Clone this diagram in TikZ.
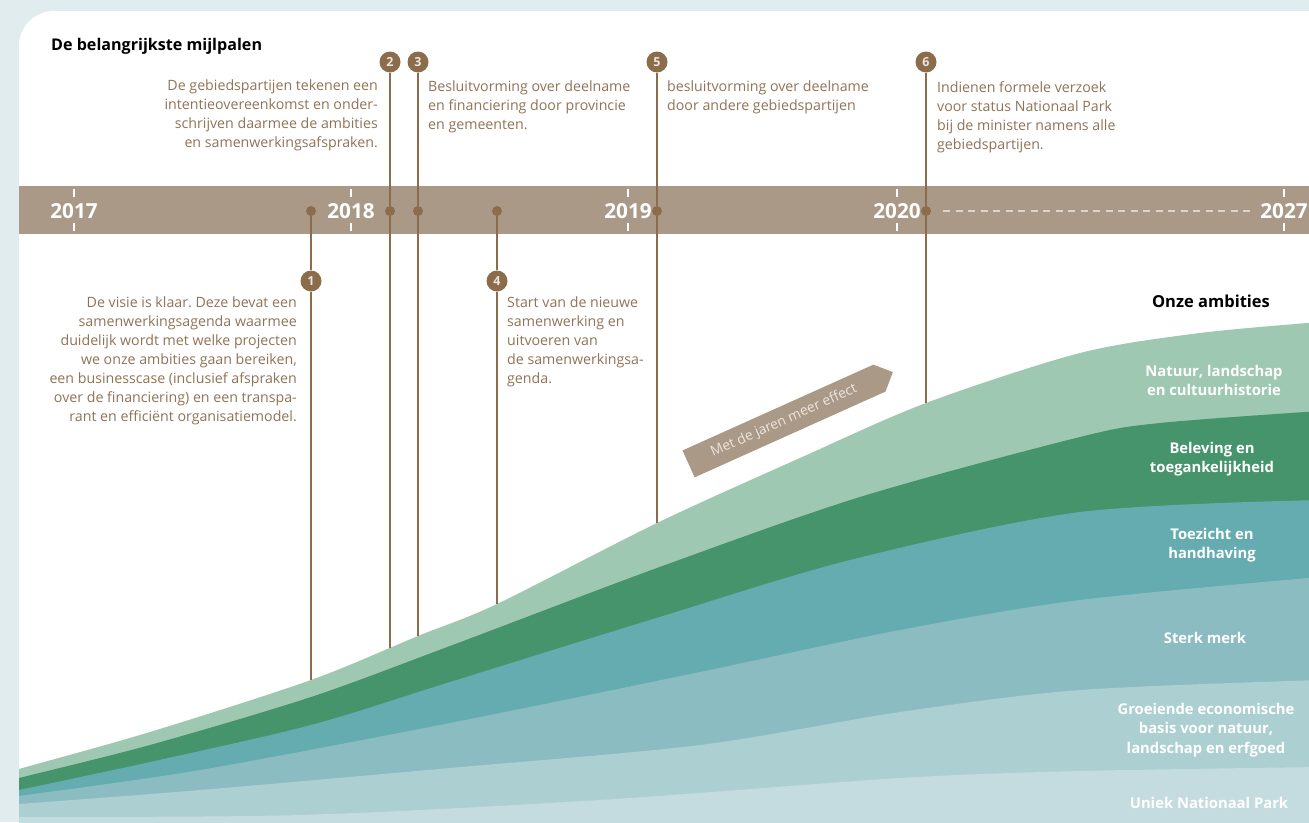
\documentclass[tikz,border=0pt]{standalone}
\usepackage{fontspec}
\setmainfont{Open Sans}
\usepackage{tikz}
\usetikzlibrary{shapes.symbols,positioning}
\frenchspacing

\definecolor{bgcol}{HTML}{E1ECEE}
\definecolor{bandcol}{HTML}{AB9987}
\definecolor{mijlcol}{HTML}{8C6D4B}
\definecolor{txtcol}{HTML}{8F7457}
\definecolor{numtxt}{HTML}{ECE5DC}
\definecolor{dashcol}{HTML}{DCD4CA}
\definecolor{natcol}{HTML}{9EC8B1}
\definecolor{belcol}{HTML}{46946B}
\definecolor{toecol}{HTML}{64ACB0}
\definecolor{merkcol}{HTML}{8BBCC1}
\definecolor{groecol}{HTML}{ACCFD1}
\definecolor{parkcol}{HTML}{C4DCE0}

\tikzset{
  nummer/.style={circle,fill=mijlcol,minimum size=21pt,inner sep=0pt,text=numtxt,
    font=\bfseries\fontsize{12.5}{12.5}\selectfont},
  punt/.style={circle,fill=mijlcol,minimum size=10pt,inner sep=0pt},
  paal/.style={mijlcol,line width=1.6pt},
  uitleg/.style={text=txtcol,inner sep=0pt,font=\fontsize{14.2}{19}\selectfont},
  jaar/.style={text=white,inner sep=0pt,font=\bfseries\fontsize{20.7}{20.7}\selectfont},
  laag/.style={text=white,inner sep=0pt,align=center,anchor=north,
    font=\bfseries\fontsize{14.8}{19.5}\selectfont},
}

\begin{document}
\begin{tikzpicture}[x=1pt,y=-1pt]
  \fill[bgcol] (0,0) rectangle (1309,822);
  \useasboundingbox (0,0) rectangle (1309,822);

  % kaart, tijdbalk en lagen
  \begin{scope}
    \clip[rounded corners=35pt] (19,11) rectangle (1360,860);
    \fill[white] (0,0) rectangle (1309,822);
    \fill[bandcol] (0,186) rectangle (1309,234);

    \fill[natcol] plot[smooth] coordinates {(0,775) (19,769) (150,732) (311,680)
      (418,636) (497,604) (657,523) (800,458) (926,403) (1080,353) (1200,333) (1320,322)}
      -- (1320,860) -- (0,860) -- cycle;
    \fill[belcol] plot[smooth] coordinates {(0,783) (19,778) (150,745) (311,697)
      (450,646) (657,568) (860,497) (1080,437) (1160,423) (1320,411)}
      -- (1320,860) -- (0,860) -- cycle;
    \fill[toecol] plot[smooth] coordinates {(0,794) (19,790) (150,762) (311,725)
      (450,682) (650,620) (850,560) (1080,512) (1320,500)}
      -- (1320,860) -- (0,860) -- cycle;
    \fill[merkcol] plot[smooth] coordinates {(0,798) (19,796) (200,770) (450,723)
      (700,672) (900,630) (1080,600) (1320,577)}
      -- (1320,860) -- (0,860) -- cycle;
    \fill[groecol] plot[smooth] coordinates {(0,805) (19,804) (200,790) (450,768)
      (700,745) (900,712) (1080,690) (1320,680)}
      -- (1320,860) -- (0,860) -- cycle;
    \fill[parkcol] plot[smooth] coordinates {(0,817) (19,817) (300,815) (600,800)
      (900,778) (1080,771) (1320,767)}
      -- (1320,860) -- (0,860) -- cycle;
  \end{scope}

  % jaartallen
  \foreach \x/\jr in {74/2017,351/2018,628/2019,897/2020,1284/2027}{
    \node[jaar] (j\jr) at (\x,211) {\jr};
    \draw[white,line width=1.2pt] (\x,189) -- (\x,197);
    \draw[white,line width=1.2pt] (\x,223) -- (\x,231);
  }
  \draw[dashcol,line width=1.5pt,dash pattern=on 7pt off 5.5pt] (943,211) -- (1250,211);

  \node[anchor=base west,inner sep=0pt,font=\bfseries\fontsize{16.1}{16}\selectfont]
    (titel) at (51,50) {De belangrijkste mijlpalen};

  % mijlpalen
  \node[punt] (d1) at (311,211) {};
  \node[punt] (d2) at (390,211) {};
  \node[punt] (d3) at (418,211) {};
  \node[punt] (d4) at (497,211) {};
  \node[punt] (d5) at (657,211) {};
  \node[punt] (d6) at (926,211) {};

  \node[nummer] (m1) at (311,281) {1};
  \node[nummer] (m2) at (390,62) {2};
  \node[nummer] (m3) at (418,62) {3};
  \node[nummer] (m4) at (497,281) {4};
  \node[nummer] (m5) at (657,62) {5};
  \node[nummer] (m6) at (926,62) {6};

  \coordinate (e1) at (311,680);
  \coordinate (e2) at (390,648);
  \coordinate (e3) at (418,636);
  \coordinate (e4) at (497,604);
  \coordinate (e5) at (657,523);
  \coordinate (e6) at (926,403);

  \draw[paal] (d1) -- (m1) -- (e1);
  \draw[paal] (m2) -- (d2) -- (e2);
  \draw[paal] (m3) -- (d3) -- (e3);
  \draw[paal] (d4) -- (m4) -- (e4);
  \draw[paal] (m5) -- (d5) -- (e5);
  \draw[paal] (m6) -- (d6) -- (e6);

  \node[uitleg,align=right,anchor=north east] (t1) at (297,297)
    {De visie is klaar. Deze bevat een\\samenwerkingsagenda waarmee\\
     duidelijk wordt met welke projecten\\we onze ambities gaan bereiken,\\
     een businesscase (inclusief afspraken\\over de financiering) en een transpa-\\
     rant en efficiënt organisatiemodel.};
  \node[uitleg,align=right,anchor=north east] (t2) at (378,80)
    {De gebiedspartijen tekenen een\\intentieovereenkomst en onder-\\
     schrijven daarmee de ambities\\en samenwerkingsafspraken.};
  \node[uitleg,align=left,anchor=north west] (t3) at (428,81)
    {Besluitvorming over deelname\\en financiering door provincie\\en gemeenten.};
  \node[uitleg,align=left,anchor=north west] (t4) at (507,297)
    {Start van de nieuwe\\samenwerking en\\uitvoeren van\\de samenwerkingsa-\\genda.};
  \node[uitleg,align=left,anchor=north west] (t5) at (667,81)
    {besluitvorming over deelname\\door andere gebiedspartijen};
  \node[uitleg,align=left,anchor=north west] (t6) at (937,81)
    {Indienen formele verzoek\\voor status Nationaal Park\\bij de minister namens alle\\gebiedspartijen.};

  % pijl
  \node[signal,signal to=east,signal pointer angle=90,fill=bandcol,rotate=24.2,
    minimum width=224pt,minimum height=29.5pt,inner sep=0pt,text=numtxt,
    font=\fontsize{13.8}{13.8}\selectfont] (effect) at (784,421) {Met de jaren meer effect};

  % ambities
  \node[laag,text=black,font=\bfseries\fontsize{16.5}{16.5}\selectfont] (ambities) at (1211,295) {Onze ambities};
  \node[laag] (natuur) at (1214,365) {Natuur, landschap\\en cultuurhistorie};
  \node[laag] (beleving) at (1212,442) {Beleving en\\toegankelijkheid};
  \node[laag] (toezicht) at (1212,528) {Toezicht en\\handhaving};
  \node[laag] (merk) at (1205,632) {Sterk merk};
  \node[laag] (basis) at (1206,703) {Groeiende economische\\basis voor natuur,\\landschap en erfgoed};
  \node[laag] (park) at (1209,797) {Uniek Nationaal Park};
\end{tikzpicture}
\end{document}
